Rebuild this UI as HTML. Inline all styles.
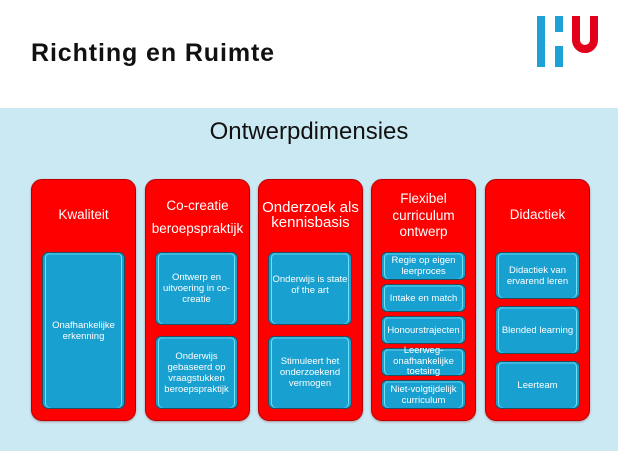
<!DOCTYPE html>
<html>
<head>
<meta charset="utf-8">
<style>
  html, body { margin:0; padding:0; }
  body { width:618px; height:451px; position:relative; overflow:hidden; background:#ffffff; font-family:"Liberation Sans", Arial, sans-serif; }
  .title { position:absolute; left:31px; top:38px; font-size:25px; font-weight:bold; letter-spacing:0.9px; color:#111; line-height:30px; white-space:nowrap; }
  .band { position:absolute; left:0; top:108px; width:618px; height:343px; background:#cbe9f3; }
  .sub { position:absolute; left:0; width:618px; top:118px; text-align:center; font-size:24px; color:#111; line-height:28px; }
  .col { position:absolute; top:179px; width:105px; height:242px; background:#ff0000; border:1px solid #b80000; border-radius:11px; box-sizing:border-box; box-shadow:0 1px 2px rgba(120,0,0,0.35); }
  .ct { position:absolute; left:0; width:100%; text-align:center; color:#fff; white-space:nowrap; }
  .box { position:absolute; background:#18a0d0; border:1.5px solid #234e60; border-radius:6px; box-sizing:border-box; color:#fff; font-size:9.5px; line-height:11px; text-align:center; display:flex; align-items:center; justify-content:center;
    box-shadow: inset 2px 0 0 #18a0d0, inset 3px 0 0 #6fe2f6, inset -2px 0 0 #18a0d0, inset -3px 0 0 #6fe2f6, inset 0 2px 0 #3cb8e0; }
  .box span { display:block; padding:0 3px; }
</style>
</head>
<body>
  <div class="title">Richting en Ruimte</div>

  <svg style="position:absolute;left:0;top:0" width="618" height="100">
    <rect x="537" y="16" width="8" height="51" fill="#1ea2d6"/>
    <rect x="555" y="16" width="8" height="16" fill="#1ea2d6"/>
    <rect x="555" y="46" width="8" height="21" fill="#1ea2d6"/>
    <path d="M576 16 L576 40 A9 9 0 0 0 594 40 L594 16" fill="none" stroke="#e2001a" stroke-width="8"/>
  </svg>

  <div class="band"></div>
  <div class="sub">Ontwerpdimensies</div>

  <!-- Column 1 -->
  <div class="col" style="left:31px;">
    <div class="ct" style="top:27px;font-size:13.5px;line-height:16px;">Kwaliteit</div>
  </div>
  <!-- Column 2 -->
  <div class="col" style="left:145px;">
    <div class="ct" style="top:14px;font-size:13.5px;line-height:23px;">Co-creatie<br>beroepspraktijk</div>
  </div>
  <!-- Column 3 -->
  <div class="col" style="left:258px;">
    <div class="ct" style="top:20px;font-size:15px;line-height:15px;">Onderzoek als<br>kennisbasis</div>
  </div>
  <!-- Column 4 -->
  <div class="col" style="left:371px;">
    <div class="ct" style="top:11px;font-size:13.5px;line-height:16.5px;">Flexibel<br>curriculum<br>ontwerp</div>
  </div>
  <!-- Column 5 -->
  <div class="col" style="left:485px;">
    <div class="ct" style="top:27px;font-size:13.5px;line-height:16px;">Didactiek</div>
  </div>

  <!-- Boxes col 1 -->
  <div class="box" style="left:42px;top:252px;width:83px;height:157px;"><span>Onafhankelijke<br>erkenning</span></div>

  <!-- Boxes col 2 -->
  <div class="box" style="left:155px;top:252px;width:83px;height:73px;"><span>Ontwerp en<br>uitvoering in co-<br>creatie</span></div>
  <div class="box" style="left:155px;top:336px;width:83px;height:73px;"><span>Onderwijs<br>gebaseerd op<br>vraagstukken<br>beroepspraktijk</span></div>

  <!-- Boxes col 3 -->
  <div class="box" style="left:268px;top:252px;width:84px;height:73px;"><span style="margin-top:-8px">Onderwijs is state<br>of the art</span></div>
  <div class="box" style="left:268px;top:336px;width:84px;height:73px;"><span>Stimuleert het<br>onderzoekend<br>vermogen</span></div>

  <!-- Boxes col 4 -->
  <div class="box" style="left:381px;top:252px;width:85px;height:28px;"><span>Regie op eigen<br>leerproces</span></div>
  <div class="box" style="left:381px;top:284px;width:85px;height:28px;"><span>Intake en match</span></div>
  <div class="box" style="left:381px;top:316px;width:85px;height:28px;"><span>Honourstrajecten</span></div>
  <div class="box" style="left:381px;top:348px;width:85px;height:28px;line-height:10.5px;"><span>Leerweg-<br>onafhankelijke<br>toetsing</span></div>
  <div class="box" style="left:381px;top:380px;width:85px;height:29px;"><span>Niet-volgtijdelijk<br>curriculum</span></div>

  <!-- Boxes col 5 -->
  <div class="box" style="left:495px;top:252px;width:85px;height:47px;"><span>Didactiek van<br>ervarend leren</span></div>
  <div class="box" style="left:495px;top:306px;width:85px;height:48px;"><span>Blended learning</span></div>
  <div class="box" style="left:495px;top:361px;width:85px;height:48px;"><span>Leerteam</span></div>
</body>
</html>
